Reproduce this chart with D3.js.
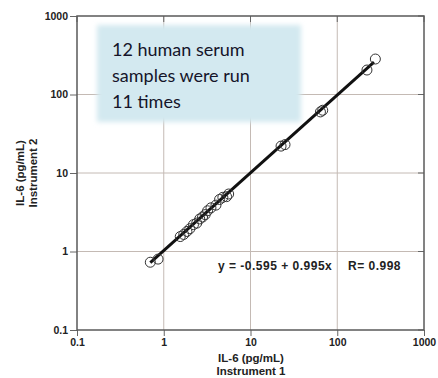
<!DOCTYPE html>
<html>
<head>
<meta charset="utf-8">
<script src="https://cdn.jsdelivr.net/npm/d3@7"></script>
<style>
  body { margin: 0; background: #fff; }
</style>
</head>
<body>
<div id="chart"></div>
<script>
// data (pg/mL)
const instrument1 = [0.70, 0.86, 1.55, 1.7, 1.85, 2.0, 2.2, 2.4, 2.6, 2.8, 3.0, 3.2, 3.5, 4.0, 4.4, 4.8, 5.3, 5.6, 22.5, 25, 64, 68, 220, 275];
const instrument2 = [0.73, 0.80, 1.55, 1.65, 1.8, 1.95, 2.2, 2.3, 2.6, 2.75, 2.95, 3.3, 3.6, 3.9, 4.6, 4.9, 5.0, 5.4, 22, 23, 60, 63, 205, 283];
const fitX = [0.70, 265];
const fitY = [0.72, 258];
const tickValues = [0.1, 1, 10, 100, 1000];
const noteLines = ["12 human serum", "samples were run", "11 times"];
const fitLabels = ["y = -0.595 + 0.995x", "R= 0.998"];

const width = 438, height = 378;
const margin = {top: 16, right: 14, bottom: 48, left: 77};

const svg = d3.select("#chart").append("svg")
    .attr("width", width)
    .attr("height", height);

const x = d3.scaleLog().domain([0.1, 1000]).range([margin.left, width - margin.right]);
const y = d3.scaleLog().domain([0.1, 1000]).range([height - margin.bottom, margin.top]);

const defs = svg.append("defs");
defs.append("filter").attr("id", "soft")
    .attr("x", "-10%").attr("y", "-10%").attr("width", "120%").attr("height", "120%")
    .append("feGaussianBlur").attr("stdDeviation", 2.5);

// grid
const grid = svg.append("g").attr("stroke", "#c4bab4").attr("stroke-width", 1);
grid.selectAll(".gx").data(tickValues.slice(1, -1)).join("line")
    .attr("x1", d => x(d)).attr("x2", d => x(d))
    .attr("y1", margin.top).attr("y2", height - margin.bottom);
grid.selectAll(".gy").data(tickValues.slice(1, -1)).join("line")
    .attr("y1", d => y(d)).attr("y2", d => y(d))
    .attr("x1", margin.left).attr("x2", width - margin.right);

// note box
svg.append("rect")
    .attr("x", 97).attr("y", 25).attr("width", 204).attr("height", 97)
    .attr("fill", "#d3e9f0")
    .attr("filter", "url(#soft)");
svg.append("g").selectAll("text").data(noteLines).join("text")
    .attr("x", 112)
    .attr("y", (d, i) => 56 + i * 26)
    .attr("font-family", "Lato, sans-serif")
    .attr("font-size", 18)
    .attr("fill", "#15152a")
    .text(d => d);

// axes
const axisFont = g => g.selectAll("text")
    .attr("font-family", "Liberation Sans, Arial, sans-serif")
    .attr("font-weight", "bold")
    .attr("font-size", 10.5)
    .attr("fill", "#222");

svg.append("g")
    .attr("transform", `translate(0,${height - margin.bottom})`)
    .call(d3.axisBottom(x).tickValues(tickValues).tickFormat(d3.format("~g")).tickSize(6).tickPadding(3))
    .call(g => g.select(".domain").remove())
    .call(g => g.selectAll("line").attr("stroke", "#666"))
    .call(axisFont);

svg.append("g")
    .attr("transform", `translate(${margin.left},0)`)
    .call(d3.axisLeft(y).tickValues(tickValues).tickFormat(d3.format("~g")).tickSize(7).tickPadding(2))
    .call(g => g.select(".domain").remove())
    .call(g => g.selectAll("line").attr("stroke", "#666"))
    .call(axisFont);

// inner ticks on top and right
svg.append("g").selectAll("line").data(tickValues).join("line")
    .attr("x1", d => x(d)).attr("x2", d => x(d))
    .attr("y1", margin.top).attr("y2", margin.top + 6)
    .attr("stroke", "#666");
svg.append("g").selectAll("line").data(tickValues).join("line")
    .attr("y1", d => y(d)).attr("y2", d => y(d))
    .attr("x1", width - margin.right).attr("x2", width - margin.right - 6)
    .attr("stroke", "#666");

// frame
svg.append("rect")
    .attr("x", margin.left).attr("y", margin.top)
    .attr("width", width - margin.left - margin.right)
    .attr("height", height - margin.top - margin.bottom)
    .attr("fill", "none")
    .attr("stroke", "#5a5a5a")
    .attr("stroke-width", 1.5);

// fit line
svg.append("path")
    .datum(d3.zip(fitX, fitY))
    .attr("d", d3.line().x(d => x(d[0])).y(d => y(d[1])))
    .attr("stroke", "#111")
    .attr("stroke-width", 3)
    .attr("fill", "none");

// points
svg.append("g").selectAll("circle").data(d3.zip(instrument1, instrument2)).join("circle")
    .attr("cx", d => x(d[0]))
    .attr("cy", d => y(d[1]))
    .attr("r", 5)
    .attr("fill", "none")
    .attr("stroke", "#333")
    .attr("stroke-width", 1);

// regression label
svg.append("g").selectAll("text").data(fitLabels).join("text")
    .attr("x", (d, i) => i ? 348 : 218)
    .attr("y", 270)
    .attr("font-family", "Liberation Sans, Arial, sans-serif")
    .attr("font-weight", "bold")
    .attr("font-size", 12)
    .attr("letter-spacing", 0.5)
    .attr("fill", "#222")
    .text(d => d);

// axis titles
const titleFont = t => t
    .attr("font-family", "Liberation Sans, Arial, sans-serif")
    .attr("font-weight", "bold")
    .attr("font-size", 11.5)
    .attr("fill", "#222")
    .attr("text-anchor", "middle");

svg.append("text").call(titleFont)
    .attr("x", 251).attr("y", 362).text("IL-6 (pg/mL)");
svg.append("text").call(titleFont)
    .attr("x", 251).attr("y", 375).text("Instrument 1");

svg.append("text").call(titleFont)
    .attr("transform", "translate(24,173) rotate(-90)").text("IL-6 (pg/mL)");
svg.append("text").call(titleFont)
    .attr("transform", "translate(37,173) rotate(-90)").text("Instrument 2");
</script>
</body>
</html>
